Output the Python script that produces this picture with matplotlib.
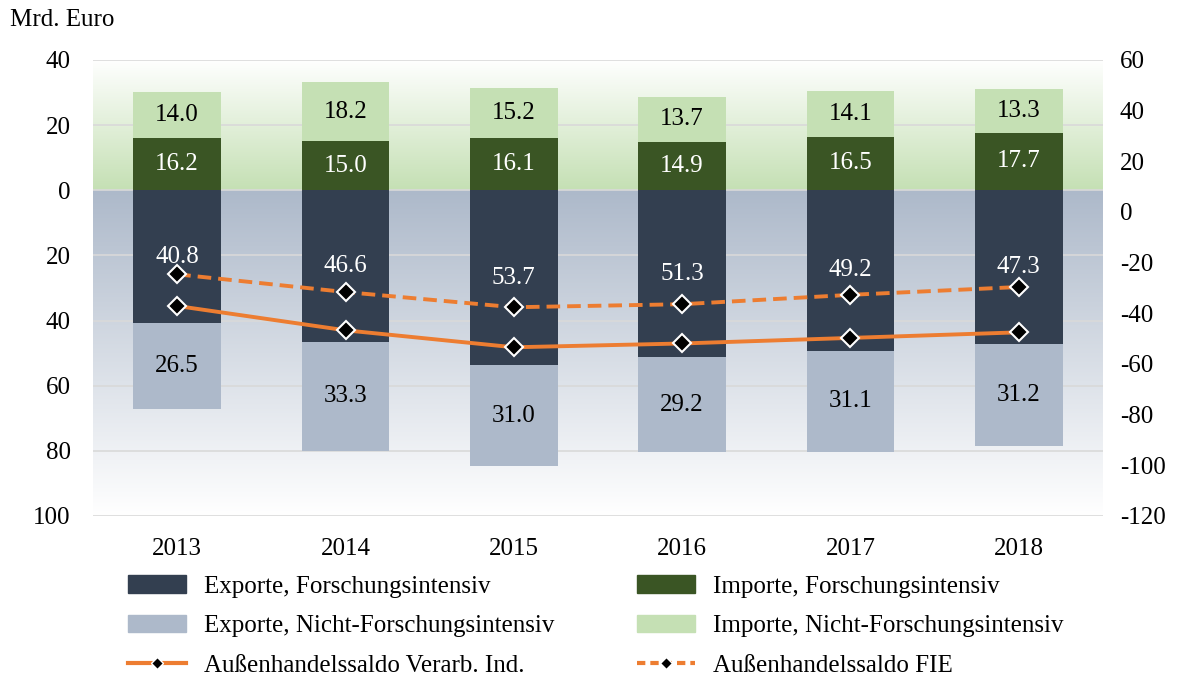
import numpy as np
import matplotlib
matplotlib.use("Agg")
import matplotlib.pyplot as plt
from matplotlib.colors import LinearSegmentedColormap
from matplotlib.lines import Line2D
from matplotlib.patches import Patch

years = ["2013", "2014", "2015", "2016", "2017", "2018"]
exp_fi = [40.8, 46.6, 53.7, 51.3, 49.2, 47.3]
exp_nfi = [26.5, 33.3, 31.0, 29.2, 31.1, 31.2]
imp_fi = [16.2, 15.0, 16.1, 14.9, 16.5, 17.7]
imp_nfi = [14.0, 18.2, 15.2, 13.7, 14.1, 13.3]
saldo_vi = [-37.1, -46.7, -53.4, -51.9, -49.7, -47.5]
saldo_fie = [-24.6, -31.6, -37.6, -36.4, -32.7, -29.6]
left_ticks = [40, 20, 0, -20, -40, -60, -80, -100]
right_ticks = [60, 40, 20, 0, -20, -40, -60, -80, -100, -120]

C_NAVY = "#333F50"
C_LBLUE = "#ADB9CA"
C_DGREEN = "#3A5524"
C_LGREEN = "#C5E0B4"
C_ORANGE = "#ED7D31"

plt.rcParams['font.family'] = ['Liberation Serif', 'DejaVu Serif']
FS = 18

fig = plt.figure(figsize=(11.81, 6.76), dpi=100)
ax = fig.add_axes([93/1181, 1-516/676, (1103-93)/1181, (516-60)/676])
x = np.arange(len(years))

# background gradients
g_top = LinearSegmentedColormap.from_list("gt", ["#FFFFFF", C_LGREEN])
g_bot = LinearSegmentedColormap.from_list("gb", [C_LBLUE, "#FFFFFF"])
grad = np.linspace(0, 1, 256).reshape(-1, 1)
ax.imshow(grad, extent=(-0.5, 5.5, 0, 40), cmap=g_top, aspect='auto', origin='upper', zorder=0)
ax.imshow(grad, extent=(-0.5, 5.5, -100, 0), cmap=g_bot, aspect='auto', origin='upper', zorder=0)
ax.set_xlim(-0.5, 5.5)
ax.set_ylim(-100, 40)

for t in left_ticks:
    ax.axhline(t, color="#D9D9D9", lw=1.2, zorder=1)

w = 0.52
neg_fi = [-v for v in exp_fi]
neg_nfi = [-v for v in exp_nfi]
ax.bar(x, neg_fi, w, color=C_NAVY, zorder=2)
ax.bar(x, neg_nfi, w, bottom=neg_fi, color=C_LBLUE, zorder=2)
ax.bar(x, imp_fi, w, color=C_DGREEN, zorder=2)
ax.bar(x, imp_nfi, w, bottom=imp_fi, color=C_LGREEN, zorder=2)

for i in range(len(years)):
    ax.text(x[i], -exp_fi[i]/2, f"{exp_fi[i]:.1f}", ha='center', va='center', color='white', fontsize=FS, zorder=3)
    ax.text(x[i], -exp_fi[i]-exp_nfi[i]/2, f"{exp_nfi[i]:.1f}", ha='center', va='center', color='black', fontsize=FS, zorder=3)
    ax.text(x[i], imp_fi[i]/2, f"{imp_fi[i]:.1f}", ha='center', va='center', color='white', fontsize=FS, zorder=3)
    ax.text(x[i], imp_fi[i]+imp_nfi[i]/2, f"{imp_nfi[i]:.1f}", ha='center', va='center', color='black', fontsize=FS, zorder=3)

ax.set_xticks(x)
ax.set_xticklabels(years, fontsize=FS)
ax.set_yticks(left_ticks)
ax.set_yticklabels([str(abs(t)) for t in left_ticks], fontsize=FS)
ax.tick_params(axis='y', length=0, pad=16)
ax.tick_params(axis='x', length=0, pad=16)
for s in ax.spines.values():
    s.set_visible(False)

ax2 = ax.twinx()
ax2.set_ylim(-120, 60)
ax2.set_yticks(right_ticks)
ax2.set_yticklabels([str(t) for t in right_ticks], fontsize=FS)
ax2.tick_params(length=0, pad=12)
for s in ax2.spines.values():
    s.set_visible(False)
mk = dict(marker='D', markersize=9, markerfacecolor='black', markeredgecolor='white', markeredgewidth=1.5)
ax2.plot(x, saldo_vi, color=C_ORANGE, lw=2.8, **mk, zorder=4)
ax2.plot(x, saldo_fie, color=C_ORANGE, lw=2.8, ls=(0, (3.5, 1.8)), **mk, zorder=4)

fig.text(10/1181, 1-20/676, "Mrd. Euro", fontsize=FS, ha='left', va='center')

mk_leg = dict(marker='D', markersize=6, markerfacecolor='black', markeredgecolor='white', markeredgewidth=1)
h_left = [Patch(color=C_NAVY), Patch(color=C_LBLUE),
          Line2D([], [], color=C_ORANGE, lw=3, **mk_leg)]
l_left = ["Exporte, Forschungsintensiv", "Exporte, Nicht-Forschungsintensiv", "Außenhandelssaldo Verarb. Ind."]
h_right = [Patch(color=C_DGREEN), Patch(color=C_LGREEN),
           Line2D([], [], color=C_ORANGE, lw=3, ls=(0, (2.0, 1.2)), **mk_leg)]
l_right = ["Importe, Forschungsintensiv", "Importe, Nicht-Forschungsintensiv", "Außenhandelssaldo FIE"]

common = dict(loc='upper left', frameon=False, fontsize=FS, handlelength=2.3, handleheight=0.7,
              handletextpad=0.75, labelspacing=0.68, borderaxespad=0, borderpad=0)
leg1 = fig.legend(h_left, l_left, bbox_to_anchor=(128/1181, 1-575/676), **common)
leg2 = fig.legend(h_right, l_right, bbox_to_anchor=(637/1181, 1-575/676), **common)

fig.savefig("out.png", dpi=100)
